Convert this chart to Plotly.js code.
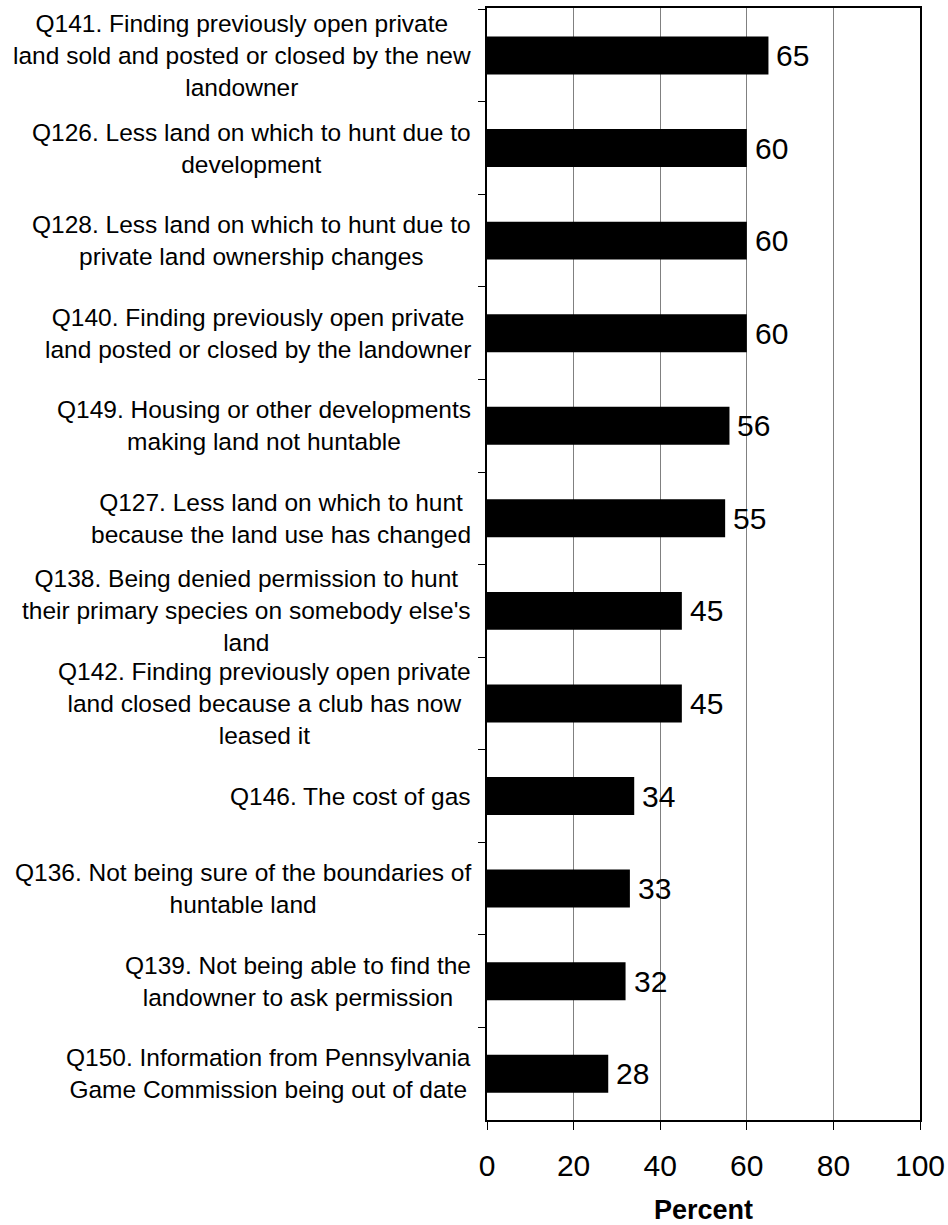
<!DOCTYPE html>
<html>
<head>
<meta charset="utf-8">
<script src="https://cdn.plot.ly/plotly-3.0.1.min.js"></script>
<style>html,body{margin:0;padding:0;background:#fff;}#chart{width:948px;height:1225px;}</style>
</head>
<body>
<div id="chart"></div>
<script>
const categories = [
  "Q141. Finding previously open private<br>land sold and posted or closed by the new<br>landowner",
  "Q126. Less land on which to hunt due to<br>development",
  "Q128. Less land on which to hunt due to<br>private land ownership changes",
  "Q140. Finding previously open private<br>land posted or closed by the landowner",
  "Q149. Housing or other developments<br>making land not huntable",
  "Q127. Less land on which to hunt<br>because the land use has changed",
  "Q138. Being denied permission to hunt<br>their primary species on somebody else's<br>land",
  "Q142. Finding previously open private<br>land closed because a club has now<br>leased it",
  "Q146. The cost of gas",
  "Q136. Not being sure of the boundaries of<br>huntable land",
  "Q139. Not being able to find the<br>landowner to ask permission",
  "Q150. Information from Pennsylvania<br>Game Commission being out of date"
];
const percents = [65, 60, 60, 60, 56, 55, 45, 45, 34, 33, 32, 28];
const xTickValues = [0, 20, 40, 60, 80, 100];
const xAxisTitle = "Percent";

const FONT = "Liberation Sans, Arial, sans-serif";
const ids = categories.map((c, i) => "c" + i);

const trace = {
  type: "bar",
  orientation: "h",
  y: ids,
  x: percents,
  width: 0.41,
  marker: {color: "#000000", line: {width: 0}},
  hoverinfo: "none"
};

const annotations = [];
categories.forEach((c, i) => {
  annotations.push({
    xref: "paper", yref: "y", x: 0, y: ids[i],
    text: c, showarrow: false, xanchor: "right", yanchor: "middle",
    align: "center", xshift: -14,
    font: {family: FONT, size: 24.5, color: "#000"}
  });
  annotations.push({
    xref: "x", yref: "y", x: percents[i], y: ids[i],
    text: String(percents[i]), showarrow: false, xanchor: "left", yanchor: "middle",
    xshift: 6,
    font: {family: FONT, size: 30, color: "#000"}
  });
});

const layout = {
  width: 948, height: 1225,
  margin: {l: 487, r: 28, t: 8, b: 105},
  paper_bgcolor: "#fff", plot_bgcolor: "#fff",
  showlegend: false,
  font: {family: FONT, color: "#000"},
  xaxis: {
    range: [0, 100],
    tickvals: xTickValues,
    ticktext: xTickValues.map(String),
    showgrid: true, gridcolor: "#808080", gridwidth: 1,
    zeroline: false,
    showline: true, linecolor: "#000", linewidth: 2, mirror: true,
    ticks: "outside", ticklen: 8, tickwidth: 1, tickcolor: "#000",
    tickfont: {family: FONT, size: 30, color: "#000"},
    ticklabelstandoff: 10,
    title: {text: "<b>" + xAxisTitle + "</b>", font: {family: FONT, size: 27, color: "#000"}, standoff: 20},
    fixedrange: true
  },
  yaxis: {
    type: "category",
    autorange: "reversed",
    tickson: "boundaries",
    showticklabels: false,
    showgrid: false, zeroline: false,
    showline: true, linecolor: "#000", linewidth: 2, mirror: true,
    ticks: "outside", ticklen: 7, tickwidth: 1, tickcolor: "#000",
    fixedrange: true
  },
  annotations: annotations
};

Plotly.newPlot("chart", [trace], layout, {staticPlot: true, displayModeBar: false});
</script>
</body>
</html>
